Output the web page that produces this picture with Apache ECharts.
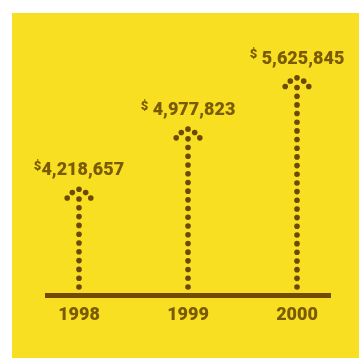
<!DOCTYPE html>
<html>
<head>
<meta charset="utf-8">
<style>
  html, body { margin: 0; padding: 0; background: #ffffff; }
  #chart { width: 359px; height: 358px; }
</style>
<script src="https://cdn.jsdelivr.net/npm/echarts@6/dist/echarts.min.js"></script>
</head>
<body>
<div id="chart"></div>
<script>
// Annual revenue, one dotted "pin" per year
const years = ['1998', '1999', '2000'];
const revenue = [4218657, 4977823, 5625845];
const revenueLabels = ['$4,218,657', '$ 4,977,823', '$ 5,625,845'];

const BROWN = '#6c4a05';
const TEXT = '#7a5a02';
const YELLOW = '#f8df21';
const FONT = 'Roboto';

const Y_MIN = 3000000;
const Y_MAX = 6500000;

const DOT_R = 2.8;
const DOT_STEP = 8.5;
// little umbrella of dots capping each stem, offsets from the top stem dot
const CAP = [[0, -9.7], [-6.7, -6.4], [6.7, -6.4], [-11.8, -1], [11.8, -1]];

function renderPin(params, api) {
  const i = api.value(0);
  const top = api.coord([i, api.value(1)]);
  const base = api.coord([i, Y_MIN]);
  const x = top[0];
  const lowest = base[1] - 8.5;
  const span = lowest - top[1];
  const n = Math.max(1, Math.round(span / DOT_STEP));
  const gap = span / n;
  const children = [];
  for (let k = 0; k <= n; k++) {
    children.push({
      type: 'circle',
      shape: { cx: x, cy: lowest - k * gap, r: DOT_R },
      style: { fill: BROWN }
    });
  }
  CAP.forEach(([dx, dy]) => {
    children.push({
      type: 'circle',
      shape: { cx: x + dx, cy: top[1] + dy, r: DOT_R },
      style: { fill: BROWN }
    });
  });
  const label = revenueLabels[params.dataIndex];
  children.push({
    type: 'text',
    x: x,
    y: top[1] - 17,
    style: {
      text: '{s|' + label.slice(0, 1) + '}{v|' + label.slice(1) + '}',
      align: 'center',
      verticalAlign: 'bottom',
      rich: {
        s: { fontSize: 13, fontWeight: 900, fontFamily: FONT, fill: TEXT, verticalAlign: 'top', lineHeight: 13 },
        v: { fontSize: 18, fontWeight: 900, fontFamily: FONT, fill: TEXT, lineHeight: 22 }
      }
    }
  });
  return { type: 'group', children };
}

const chart = echarts.init(document.getElementById('chart'), null, { renderer: 'canvas' });

chart.setOption({
  animation: false,
  backgroundColor: '#ffffff',
  graphic: [{
    type: 'rect',
    z: -10,
    shape: { x: 12, y: 13, width: 347, height: 345 },
    style: { fill: YELLOW }
  }],
  grid: [
    { left: 24.5, right: 7.5, top: 18.3, bottom: 62.5 },
    { left: 45, right: 28, top: 18.3, bottom: 62.5 }
  ],
  xAxis: [{
    type: 'category',
    gridIndex: 0,
    data: years,
    axisLine: { show: false },
    axisTick: { show: false },
    axisLabel: {
      margin: 11,
      color: TEXT,
      fontFamily: FONT,
      fontWeight: 900,
      fontSize: 18
    }
  }, {
    type: 'value',
    gridIndex: 1,
    min: 0,
    max: 1,
    axisLine: { show: true, lineStyle: { color: '#714c00', width: 5, cap: 'butt' } },
    axisTick: { show: false },
    axisLabel: { show: false },
    splitLine: { show: false }
  }],
  yAxis: [{
    type: 'value',
    gridIndex: 0,
    min: Y_MIN,
    max: Y_MAX,
    show: false
  }, {
    type: 'value',
    gridIndex: 1,
    min: 0,
    max: 1,
    show: false
  }],
  series: [{
    type: 'custom',
    xAxisIndex: 0,
    yAxisIndex: 0,
    data: revenue.map((v, i) => [i, v]),
    renderItem: renderPin
  }]
});
</script>
</body>
</html>
